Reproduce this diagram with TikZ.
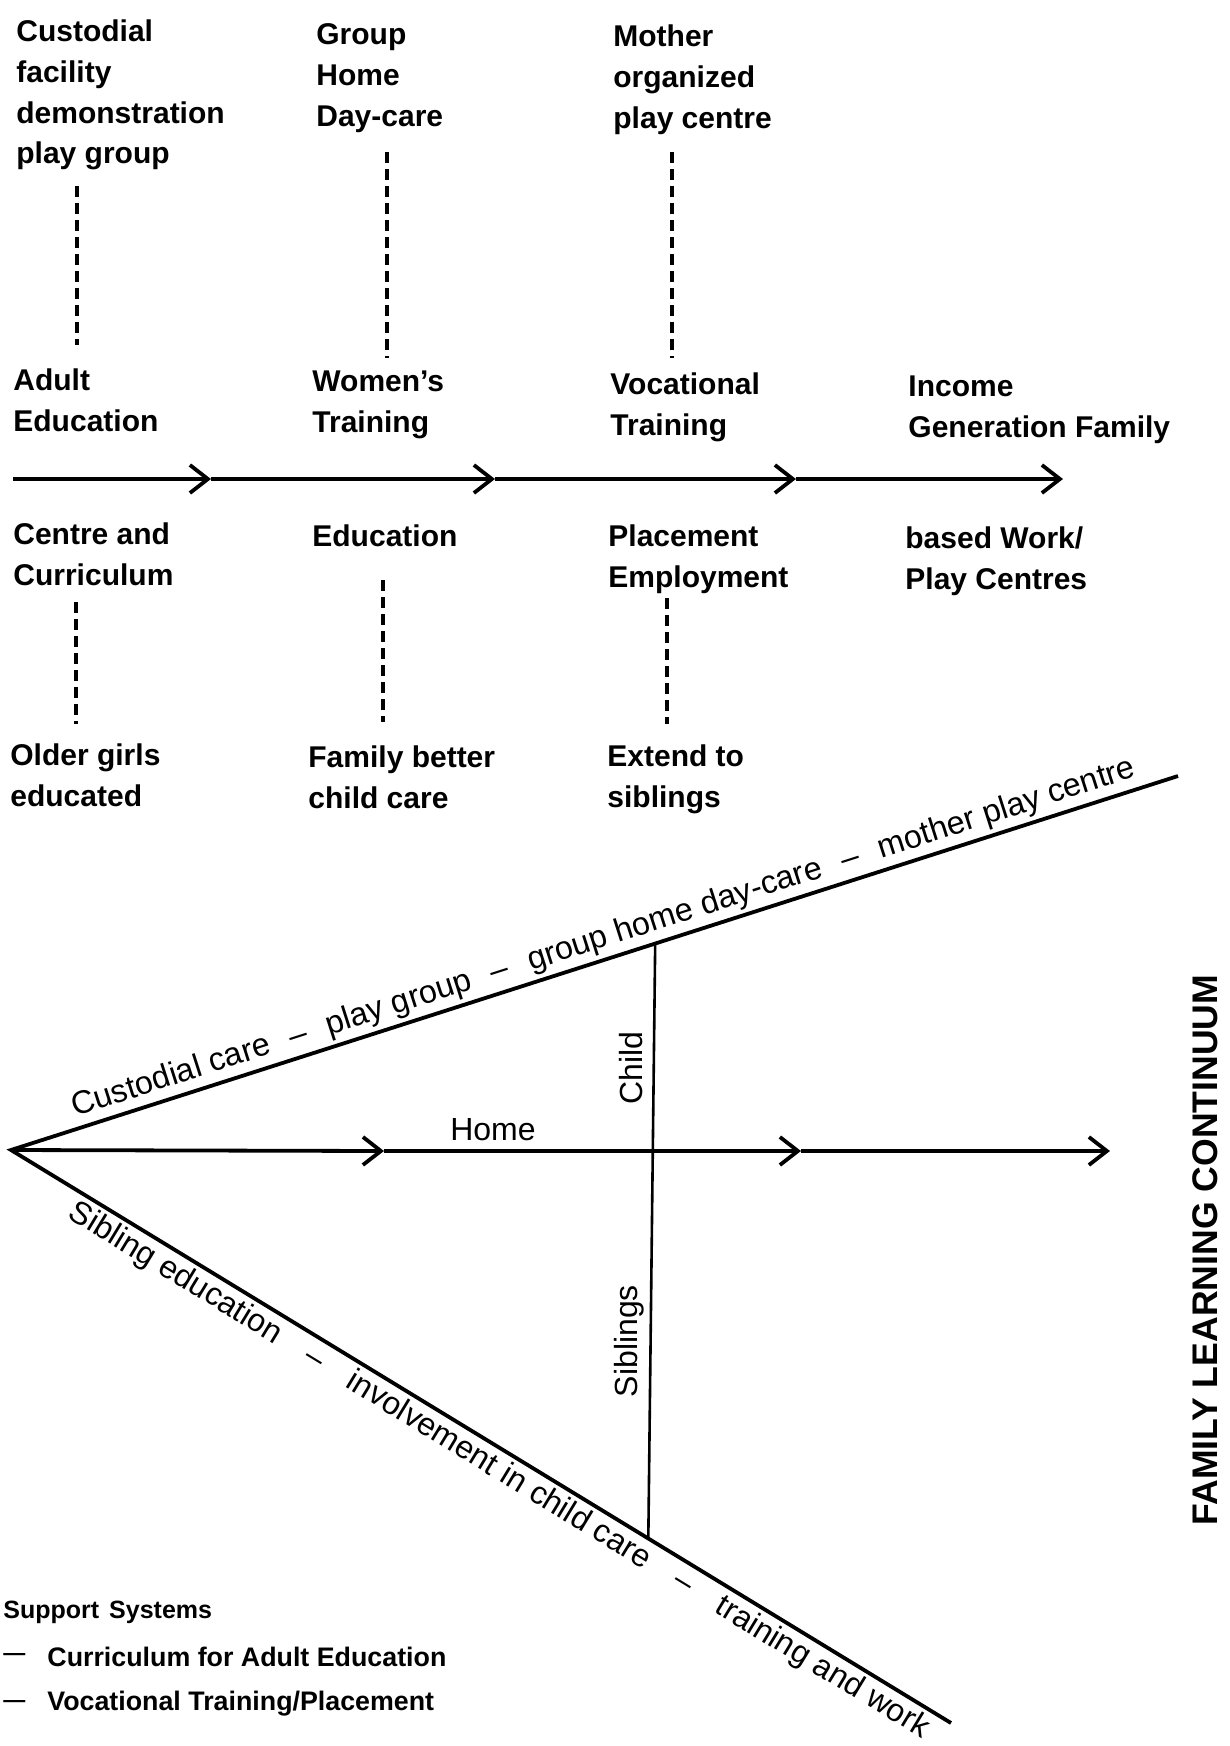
\documentclass[tikz,border=0pt]{standalone}
\usepackage{fontspec}
\setmainfont{Liberation Sans}
\usetikzlibrary{arrows.meta,calc}
\newcommand\updash{\hspace{0.65em}–\hspace{0.65em}}
\newcommand\lowdash{\hspace{1em}–\hspace{1em}}
\begin{document}
\begin{tikzpicture}[x=0.5pt,y=-0.5pt,
  lbl/.style={font=\bfseries\fontsize{15}{20.4}\selectfont, align=left, anchor=west, inner sep=0pt},
  dashln/.style={line width=2pt, dash pattern=on 5.5pt off 3pt},
  flow/.style={line width=1.9pt, -{Straight Barb[length=9pt,width=14pt]}},
  diag/.style={line width=1.9pt},
  thinln/.style={line width=1.3pt},
  dlbl/.style={font=\fontsize{16}{18}\selectfont, inner sep=0pt},
  item/.style={font=\bfseries\fontsize{13.4}{16}\selectfont, anchor=west, inner sep=0pt},
  dashmark/.style={font=\bfseries\fontsize{11}{14}\selectfont, anchor=west, inner sep=0pt},
]
\fill[white] (0,0) rectangle (1230,1746);
\useasboundingbox (0,0) rectangle (1230,1746);

% ---- upper scheme: text columns
\node[lbl] (c1a) at (16,95)  {Custodial\\facility\\demonstration\\play group};
\node[lbl] (c1b) at (13,400) {Adult\\Education};
\node[lbl] (c1c) at (13,554) {Centre and\\Curriculum};
\node[lbl] (c1d) at (10,775) {Older girls\\educated};

\node[lbl] (c2a) at (316,78)  {Group\\Home\\Day-care};
\node[lbl] (c2b) at (312,405) {Women’s\\Training};
\node[lbl] (c2c) at (312,536) {Education};
\node[lbl] (c2d) at (308,777) {Family better\\child care};

\node[lbl] (c3a) at (613,80)  {Mother\\organized\\play centre};
\node[lbl] (c3b) at (610,407) {Vocational\\Training};
\node[lbl] (c3c) at (608,559) {Placement\\Employment};
\node[lbl] (c3d) at (607,779) {Extend to\\siblings};

\node[lbl] (c4b) at (908,410) {Income\\Generation Family};
\node[lbl] (c4c) at (905,561) {based Work/\\Play Centres};

% dashed connectors
\coordinate (d1t) at (77,186);  \coordinate (d1b) at (77,345);
\coordinate (d2t) at (387,152); \coordinate (d2b) at (387,358);
\coordinate (d3t) at (672,152); \coordinate (d3b) at (672,358);
\coordinate (e1t) at (76,602);  \coordinate (e1b) at (76,724);
\coordinate (e2t) at (383,580); \coordinate (e2b) at (383,722);
\coordinate (e3t) at (667,598); \coordinate (e3b) at (667,724);
\draw[dashln] (d1t) -- (d1b);
\draw[dashln] (d2t) -- (d2b);
\draw[dashln] (d3t) -- (d3b);
\draw[dashln] (e1t) -- (e1b);
\draw[dashln] (e2t) -- (e2b);
\draw[dashln] (e3t) -- (e3b);

% arrow line
\coordinate (a0) at (13,479);
\coordinate (a1) at (211,479);
\coordinate (a2) at (495,479);
\coordinate (a3) at (796,479);
\coordinate (a4) at (1063,479);
\draw[flow] (a0) -- (a1);
\draw[flow] (a1) -- (a2);
\draw[flow] (a2) -- (a3);
\draw[flow] (a3) -- (a4);

% ---- lower scheme
\coordinate (A) at (11,1150);
\coordinate (U) at (1178,776);
\coordinate (L) at (951,1723);
\coordinate (h1) at (384,1151);
\coordinate (h2) at (801,1151);
\coordinate (h3) at (1110,1151);
\draw[diag, line join=miter] (U) -- (A) -- (L);
\draw[flow] (A) -- (h1);
\draw[flow] (h1) -- (h2);
\draw[flow] (h2) -- (h3);
\coordinate (V1) at ($(A)!0.552!(U)$);
\coordinate (V2) at ($(A)!0.678!(L)$);
\draw[thinln] (V1) -- (V2);

\path (A) -- (U) node[pos=0.058, sloped, anchor=south west, dlbl, font=\fontsize{16.2}{18}\selectfont, inner ysep=2.5pt] (ulbl)
  {Custodial care\updash play group\updash group home day-care\updash mother play centre};
\path (A) -- (L) node[pos=0.075, sloped, anchor=north west, dlbl, inner ysep=2.5pt] (llbl)
  {Sibling education\lowdash involvement in child care\lowdash training and work};

\node[dlbl] (home) at (493,1130) {Home};
\node[dlbl, rotate=90] (child) at (631,1068) {Child};
\node[dlbl, rotate=90] (sib) at (629,1341) {Siblings};
\node[font=\bfseries\fontsize{17.8}{20}\selectfont, rotate=90] (flc) at (1205,1250) {FAMILY LEARNING CONTINUUM};

% ---- support systems
\node[font=\bfseries\fontsize{12.5}{14}\selectfont, anchor=west, inner sep=0pt] (sup) at (3,1612) {Support\hspace{0.4em}Systems};
\node[dashmark] (m1) at (3,1657) {—};
\node[item] (i1) at (47,1657) {Curriculum for Adult Education};
\node[dashmark] (m2) at (3,1704) {—};
\node[item] (i2) at (47,1704) {Vocational Training/Placement};
\end{tikzpicture}
\end{document}
